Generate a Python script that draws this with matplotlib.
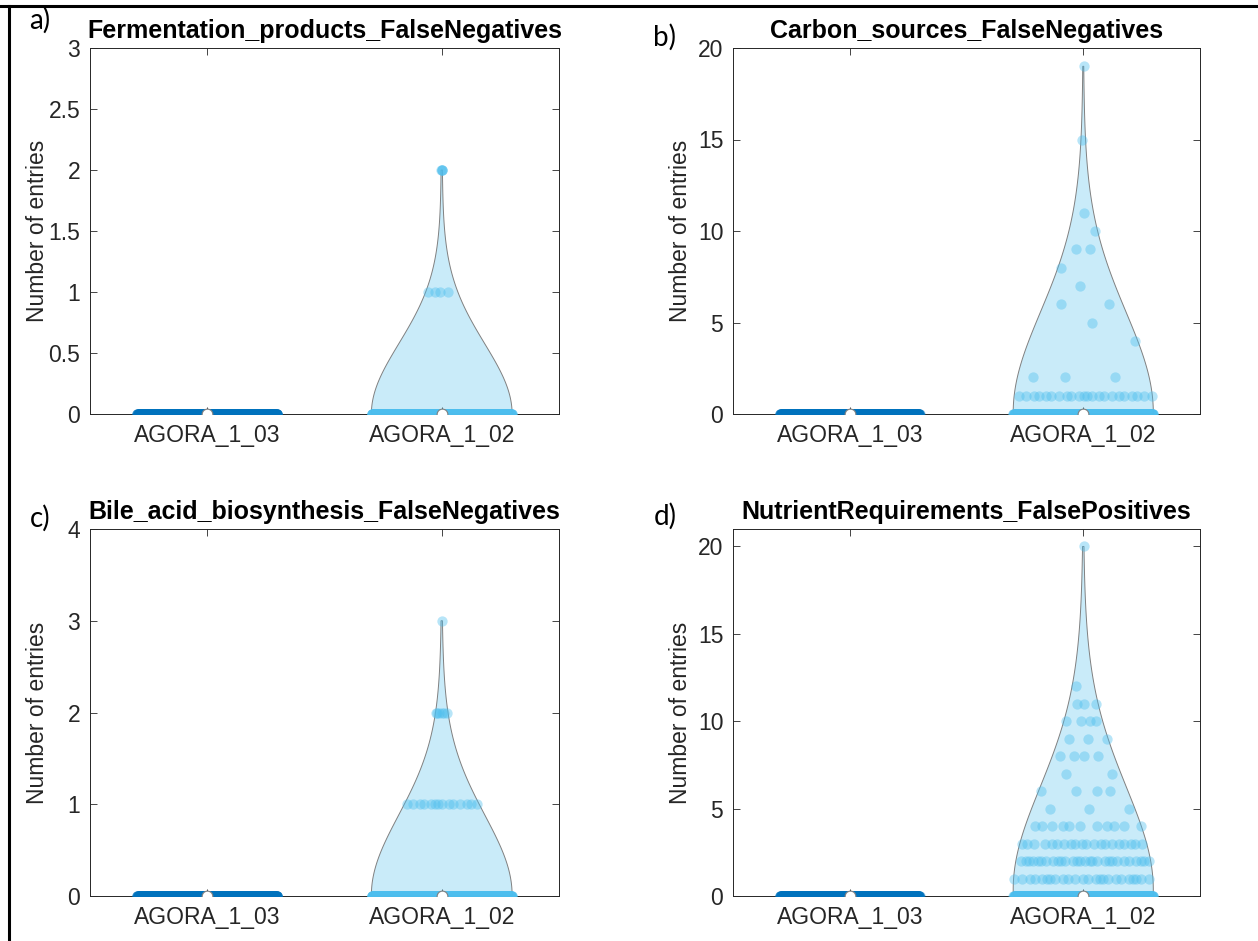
import numpy as np
import matplotlib
matplotlib.use("Agg")
import matplotlib.pyplot as plt
from matplotlib.lines import Line2D

plt.rcParams['font.family'] = ['Liberation Sans', 'DejaVu Sans']

versions = ['AGORA_1_03', 'AGORA_1_02']
titles = ['Fermentation_products_FalseNegatives', 'Carbon_sources_FalseNegatives',
          'Bile_acid_biosynthesis_FalseNegatives', 'NutrientRequirements_FalsePositives']
panel_tags = ['a)', 'b)', 'c)', 'd)']

# AGORA_1_03: no entries at all in any of the four tests
old_zero_count = 670

# AGORA_1_02: entry values and number of strains with that value
fermentation_values = [0, 1, 2]
fermentation_counts = [662, 4, 4]

carbon_values = [0, 1, 2, 4, 5, 6, 7, 8, 9, 10, 11, 15, 19]
carbon_counts = [633, 22, 3, 1, 1, 2, 1, 1, 2, 1, 1, 1, 1]

bile_values = [0, 1, 2, 3]
bile_counts = [649, 14, 6, 1]

nutrient_values = [0, 1, 2, 3, 4, 5, 6, 7, 8, 9, 10, 11, 12, 20]
nutrient_counts = [562, 24, 28, 20, 11, 3, 4, 2, 4, 3, 4, 3, 1, 1]

new_data = [(fermentation_values, fermentation_counts),
            (carbon_values, carbon_counts),
            (bile_values, bile_counts),
            (nutrient_values, nutrient_counts)]

y_tops = [3, 20, 4, 21]
y_steps = [0.5, 5, 1, 5]

colors = ['#0072BD', '#4DBEEE']
edge_gray = '#808080'


def kde(data, grid):
    # same rule as matlab ksdensity: MAD based sigma, range if MAD is zero
    n = len(data)
    sig = np.median(np.abs(data - np.median(data))) / 0.6745
    if sig <= 0:
        sig = data.max() - data.min()
    bw = sig * (4 / (3 * n)) ** 0.2
    return np.exp(-0.5 * ((grid[:, None] - data[None, :]) / bw) ** 2).sum(axis=1)


def violin(ax, data, pos, color, width=0.3):
    data = np.sort(np.asarray(data, float))
    if data.max() > data.min():
        grid = np.linspace(data.min(), data.max(), 400)
        dens = kde(data, grid)
        dens = dens / dens.max() * width
        xs = np.concatenate([pos - dens, (pos + dens)[::-1]])
        ys = np.concatenate([grid, grid[::-1]])
        ax.fill(xs, ys, facecolor=matplotlib.colors.to_rgba(color, 0.3),
                edgecolor=edge_gray, linewidth=0.7, zorder=2)
        half = np.interp(data, grid, dens)
    else:
        half = np.full(len(data), width)
    k = np.arange(len(data))
    jitter = ((k * 0.6180339887 + 0.31) % 1) * 2 - 1
    ax.scatter(pos + jitter * half, data, s=55, color=color, alpha=0.4,
               linewidths=0, zorder=3)
    ax.scatter([pos], [np.median(data)], s=60, facecolor='white',
               edgecolor=edge_gray, linewidths=0.8, zorder=4)


fig = plt.figure(figsize=(12.58, 9.41), dpi=100)
W, H = 1258, 941

# axes boxes in pixels: left, right, top, bottom
boxes = [(90, 559, 48, 414), (733, 1200, 48, 414),
         (90, 559, 529, 896), (733, 1200, 529, 896)]
tag_pos = [(40, 20), (665, 37), (40, 518), (665, 516)]

for i in range(4):
    l, r, t, b = boxes[i]
    ax = fig.add_axes([l / W, 1 - b / H, (r - l) / W, (b - t) / H])
    old = np.zeros(old_zero_count)
    vals, cnts = new_data[i]
    new = np.repeat(vals, cnts)
    violin(ax, old, 1, colors[0])
    violin(ax, new, 2, colors[1])

    ax.set_xlim(0.5, 2.5)
    ax.set_ylim(0, y_tops[i])
    ax.set_xticks([1, 2])
    ax.set_xticklabels(versions)
    yt = np.arange(0, int(y_tops[i] / y_steps[i]) + 1) * y_steps[i]
    ax.set_yticks(yt)
    ax.set_yticklabels(['%g' % v for v in yt])
    ax.tick_params(direction='in', top=True, right=True, length=5, width=0.6,
                   colors='#262626', labelsize=16.5, pad=7)
    for s in ax.spines.values():
        s.set_color('#262626')
        s.set_linewidth(0.7)
    ax.set_ylabel('Number of entries', fontsize=16.5, color='#262626')
    ax.yaxis.set_label_coords(-41 / (r - l), 0.5)
    ax.set_title(titles[i], fontsize=18, fontweight='bold', pad=7)
    fig.text(tag_pos[i][0] / W, 1 - tag_pos[i][1] / H, panel_tags[i],
             fontsize=20, family=['Lato', 'DejaVu Sans'], va='center', ha='center')

# frame lines of the pasted figure (top and left)
fig.add_artist(Line2D([0, 1], [1 - 6 / H, 1 - 6 / H], color='black', lw=2.2))
fig.add_artist(Line2D([9 / W, 9 / W], [0, 1 - 6 / H], color='black', lw=2.2))

fig.savefig('out.png', dpi=100)
